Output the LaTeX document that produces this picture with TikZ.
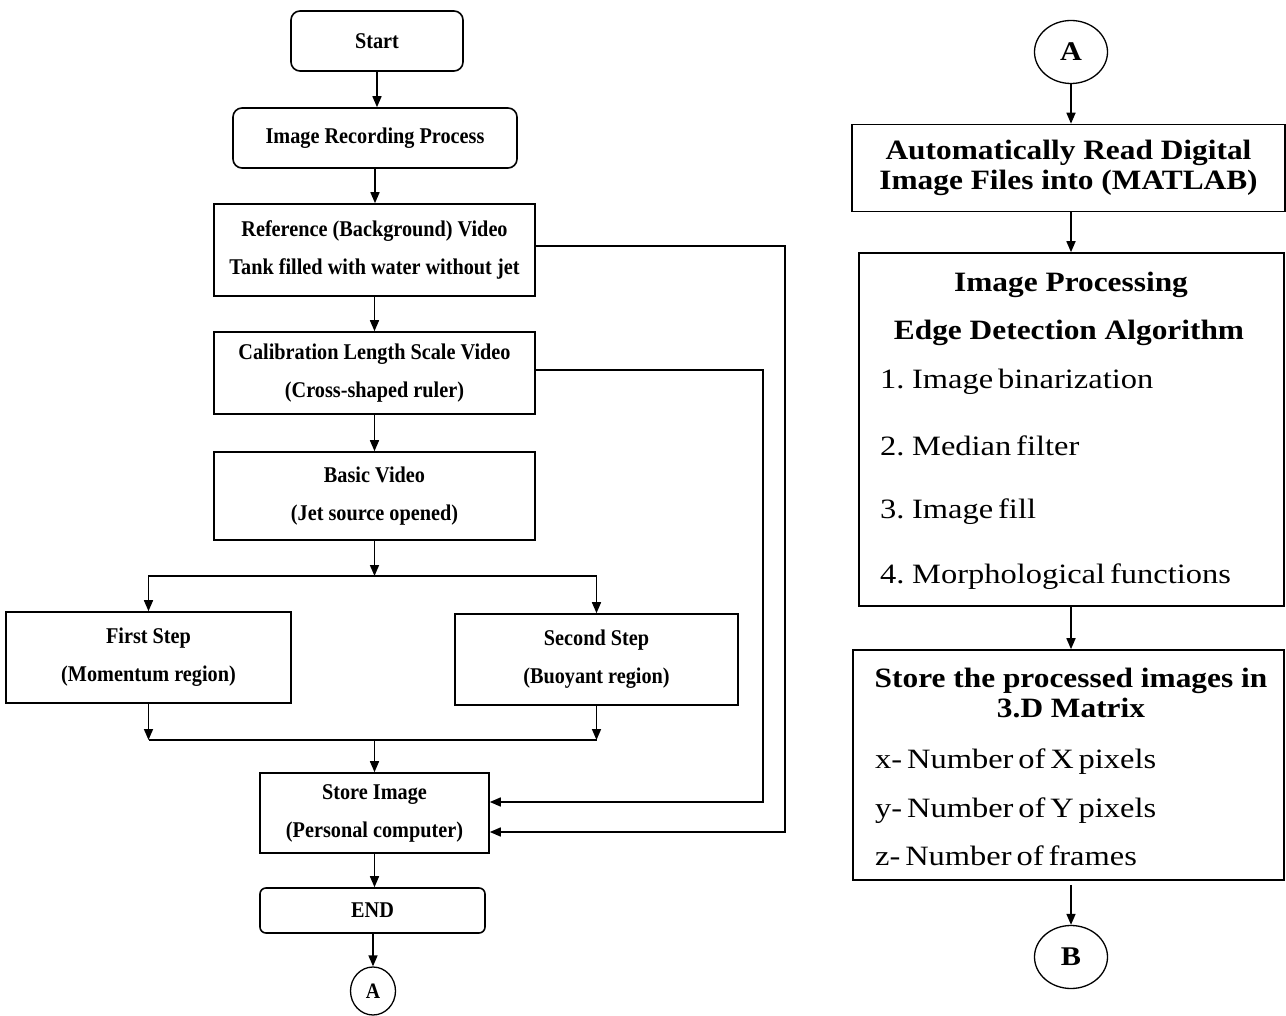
\documentclass[tikz,border=0pt]{standalone}
\usepackage{fontspec}
\setmainfont{Liberation Serif}
\newfontfamily\narrowserif[FakeStretch=0.9]{Liberation Serif}
\newfontfamily\wideserif[FakeStretch=1.12]{Liberation Serif}
\newfontfamily\itemserif[FakeStretch=1.16,WordSpace=0.6]{Liberation Serif}
\usetikzlibrary{arrows.meta,shapes.geometric,calc}

\tikzset{
  procbox/.style={draw, line width=1.6pt, inner sep=0pt, align=center,
    font=\narrowserif\bfseries\fontsize{22.5}{26}\selectfont},
  termbox/.style={procbox, rounded corners=9pt},
  bigbox/.style={draw, line width=1.6pt, inner sep=0pt},
  connector/.style={draw, ellipse, line width=1.3pt, inner sep=0pt,
    font=\wideserif\bfseries\fontsize{27}{30}\selectfont},
  flow/.style={line width=1.6pt, -{Triangle[length=11pt,width=9pt]}},
  titletext/.style={font=\wideserif\bfseries\fontsize{28}{30}\selectfont, align=center, inner sep=0pt},
  itemtext/.style={font=\itemserif\fontsize{28}{30}\selectfont, inner sep=0pt, anchor=base west},
}

\begin{document}
\begin{tikzpicture}[x=1pt,y=-1pt]
\useasboundingbox (0,0) rectangle (1286,1016);

% left chart: recording
\node[termbox, minimum width=172, minimum height=60] (start) at (377,41) {Start};
\node[termbox, minimum width=284, minimum height=60] (record) at (375,138) {Image Recording Process};
\node[procbox, minimum width=321, minimum height=92] (refvid) at (374.5,250) {Reference (Background) Video\\[12pt]Tank filled with water without jet};
\node[procbox, minimum width=321, minimum height=82] (calvid) at (374.5,373) {Calibration Length Scale Video\\[12pt](Cross-shaped ruler)};
\node[procbox, minimum width=321, minimum height=88] (basicvid) at (374.5,496) {Basic Video\\[12pt](Jet source opened)};
\node[procbox, minimum width=285, minimum height=91] (firststep) at (148.5,657.5) {First Step\\[12pt](Momentum region)};
\node[procbox, minimum width=283, minimum height=91] (secondstep) at (596.5,659.5) {Second Step\\[12pt](Buoyant region)};
\node[procbox, minimum width=229, minimum height=80] (storeimg) at (374.5,813) {Store Image\\[12pt](Personal computer)};
\node[termbox, rounded corners=6pt, minimum width=225, minimum height=45] (finish) at (372.5,910.5) {END};
\node[connector, minimum width=45, minimum height=48, font=\narrowserif\bfseries\fontsize{22}{24}\selectfont] (conA) at (373,991) {A};

\coordinate (split) at (374.5,576);
\coordinate (merge) at (374.5,740);
\coordinate (calturn) at (763,0);
\coordinate (refturn) at (785,0);
\coordinate (calout) at ([yshift=3pt]calvid.east);
\coordinate (refout) at ([yshift=4pt]refvid.east);
\coordinate (calin) at ([yshift=11pt]storeimg.east);
\coordinate (refin) at ([yshift=-19pt]storeimg.east);

\draw[flow] (start.south) -- (start.south |- record.north);
\draw[flow] (record.south) -- (record.south |- refvid.north);
\draw[flow] (refvid) -- (calvid);
\draw[flow] (calvid) -- (basicvid);
\draw[flow] (basicvid) -- (split);
\draw[flow] (split) -| (firststep.north);
\draw[flow] (split) -| (secondstep.north);
\draw[flow] (firststep.south) -- (firststep.south |- merge);
\draw[flow] (secondstep.south) -- (secondstep.south |- merge);
\draw[line width=1.6pt] (firststep.south |- merge) -- (secondstep.south |- merge);
\draw[flow] (merge) -- (storeimg);
\draw[flow] (calout) -- (calout -| calturn) |- (calin);
\draw[flow] (refout) -- (refout -| refturn) |- (refin);
\draw[flow] (storeimg) -- (storeimg |- finish.north);
\draw[flow] (finish.south -| conA) -- (conA);

% right chart: processing
\node[connector, minimum width=73, minimum height=63] (conA2) at (1071,52) {A};
\node[bigbox, titletext, minimum width=433, minimum height=87] (readfiles) at (1068.5,168) {Automatically Read Digital\\Image Files into (MATLAB)};
\node[bigbox, minimum width=425, minimum height=353] (imgproc) at (1071.5,429.5) {};
\node[titletext, anchor=base] (proctitle) at (1071,292) {Image Processing};
\node[titletext, anchor=base] (edgetitle) at (1069,340) {Edge Detection Algorithm};
\node[itemtext] (stepone) at (880,389) {1. Image binarization};
\node[itemtext] (steptwo) at (880,455) {2. Median filter};
\node[itemtext] (stepthree) at (880,518) {3. Image fill};
\node[itemtext] (stepfour) at (880,583) {4. Morphological functions};
\node[bigbox, minimum width=431, minimum height=230] (storemat) at (1068.5,765) {};
\node[titletext] (mattitle) at (1071,693) {Store the processed images in\\3.D Matrix};
\node[itemtext] (dimx) at (875,768) {x- Number of X pixels};
\node[itemtext] (dimy) at (875,817) {y- Number of Y pixels};
\node[itemtext] (dimz) at (875,865) {z- Number of frames};
\node[connector, minimum width=73, minimum height=63] (conB) at (1071,957) {B};

\draw[flow] (conA2) -- (conA2 |- readfiles.north);
\draw[flow] (conA2 |- readfiles.south) -- (conA2 |- imgproc.north);
\draw[flow] (conA2 |- imgproc.south) -- (conA2 |- storemat.north);
\draw[flow] ([yshift=-4pt]storemat.south -| conB) -- (conB);

\end{tikzpicture}
\end{document}
